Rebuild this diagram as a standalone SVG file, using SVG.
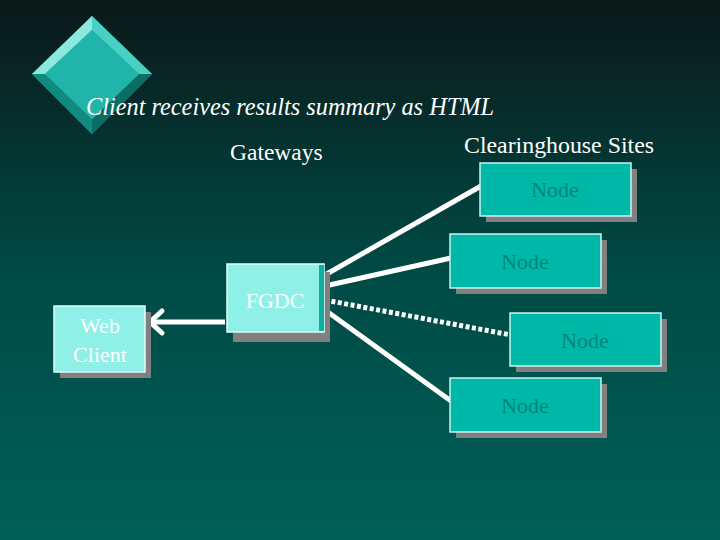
<svg xmlns="http://www.w3.org/2000/svg" width="720" height="540" viewBox="0 0 720 540">
<defs>
<linearGradient id="bg" x1="0" y1="0" x2="0" y2="1">
<stop offset="0" stop-color="#0a1818"/>
<stop offset="0.5" stop-color="#004a45"/>
<stop offset="1" stop-color="#006058"/>
</linearGradient>
</defs>
<style>
.t{font-family:"Liberation Serif","Times New Roman",serif;font-size:22px;}
.w{fill:#ffffff;}
.nt{fill:#00857c;text-anchor:middle;}
.shadow{fill:#808080;}
.node{fill:#00b8a8;stroke:#c8f4ef;stroke-width:1.5;}
.light{fill:#8ff0e8;stroke:#e0fffc;stroke-width:1.5;}
.conn{stroke:#ffffff;stroke-width:5;fill:none;}
</style>
<rect width="720" height="540" fill="url(#bg)"/>
<g id="logo">
<polygon points="92,16 152,74 92,134 32,74" fill="#1aa89c"/>
<polygon points="92,16 32,74 45,74 92,30" fill="#8ae8de"/>
<polygon points="92,16 152,74 139,74 92,30" fill="#48d0c2"/>
<polygon points="32,74 92,134 92,119 45,74" fill="#128a80"/>
<polygon points="152,74 92,134 92,119 139,74" fill="#0a6e66"/>
<polygon points="92,30 139,74 92,119 45,74" fill="#20b5a8"/>
</g>
<text class="t w" x="86" y="115" style="font-style:italic;font-size:25px" textLength="408" lengthAdjust="spacingAndGlyphs">Client receives results summary as HTML</text>
<text class="t w" x="230" y="160" style="font-size:23.5px">Gateways</text>
<text class="t w" x="464" y="153" style="font-size:24px" textLength="190" lengthAdjust="spacingAndGlyphs">Clearinghouse Sites</text>
<g id="connectors">
<line class="conn" x1="225" y1="322" x2="150" y2="322"/>
<path class="conn" d="M162,311 L150,322 L162,333" stroke-linecap="round"/>
<line class="conn" x1="325" y1="275" x2="481" y2="186"/>
<line class="conn" x1="325" y1="286" x2="451" y2="258"/>
<line class="conn" x1="325" y1="300" x2="511" y2="335" stroke-width="4" stroke-dasharray="4,2.5"/>
<line class="conn" x1="325" y1="310" x2="451" y2="401"/>
</g>
<g id="web-client">
<rect class="shadow" x="60" y="312" width="91" height="66"/>
<rect class="light" x="54" y="306" width="91" height="66"/>
<text class="t w" x="100" y="333" text-anchor="middle">Web</text>
<text class="t w" x="100" y="362" text-anchor="middle">Client</text>
</g>
<g id="fgdc">
<rect class="shadow" x="233" y="272" width="97" height="70"/>
<rect class="light" x="227" y="264" width="97" height="68"/>
<rect x="319" y="265" width="5" height="66" fill="#10b0a0"/>
<text class="t w" x="275" y="308" text-anchor="middle">FGDC</text>
</g>
<g id="node1">
<rect class="shadow" x="486" y="169" width="151" height="53"/>
<rect class="node" x="480" y="163" width="151" height="53"/>
<text class="t nt" x="555" y="197">Node</text>
</g>
<g id="node2">
<rect class="shadow" x="456" y="240" width="151" height="54"/>
<rect class="node" x="450" y="234" width="151" height="54"/>
<text class="t nt" x="525" y="269">Node</text>
</g>
<g id="node3">
<rect class="shadow" x="516" y="319" width="151" height="53"/>
<rect class="node" x="510" y="313" width="151" height="53"/>
<text class="t nt" x="585" y="348">Node</text>
</g>
<g id="node4">
<rect class="shadow" x="456" y="384" width="151" height="54"/>
<rect class="node" x="450" y="378" width="151" height="54"/>
<text class="t nt" x="525" y="413">Node</text>
</g>
</svg>
